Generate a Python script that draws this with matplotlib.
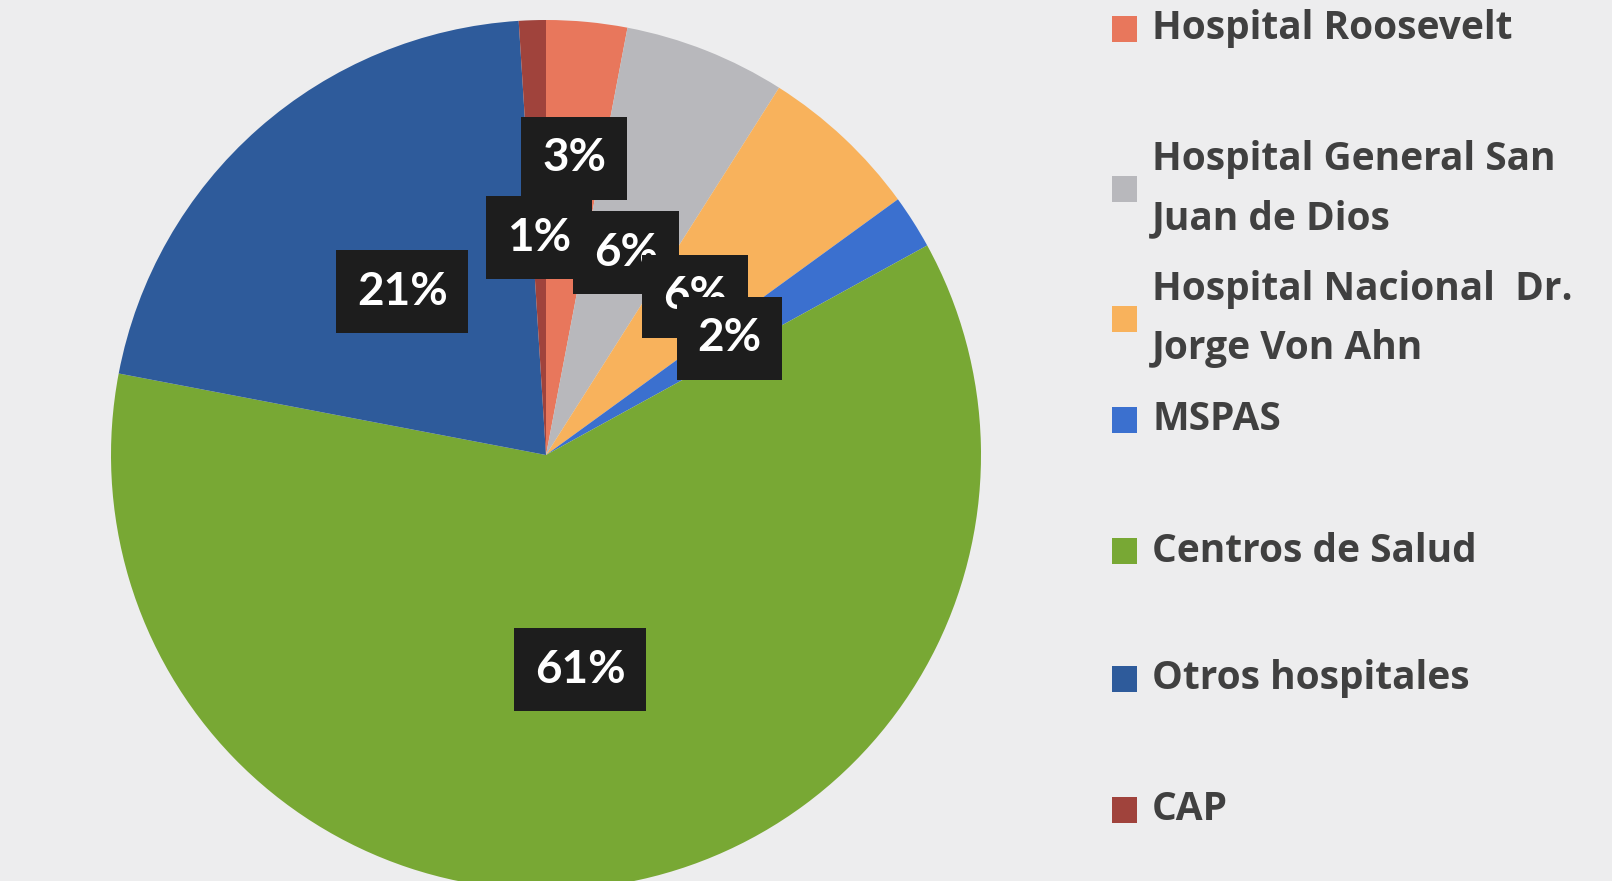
import matplotlib.pyplot as plt
from matplotlib.patches import Rectangle

categories = ["Hospital Roosevelt", "Hospital General San\nJuan de Dios",
              "Hospital Nacional  Dr.\nJorge Von Ahn", "MSPAS",
              "Centros de Salud", "Otros hospitales", "CAP"]
values = [3, 6, 6, 2, 61, 21, 1]
colors = ["#E8775C", "#B8B8BC", "#F8B25C", "#3B70CF", "#78A834", "#2E5B9B", "#A0433C"]

W, H = 1612, 881
fig = plt.figure(figsize=(W / 100, H / 100), dpi=100)
fig.patch.set_facecolor("#EDEDEE")
ax = fig.add_axes([0, 0, 1, 1])

wedges, texts, autotexts = ax.pie(
    values, colors=colors, startangle=90, counterclock=False,
    center=(546, H - 455), radius=435,
    autopct="%1.0f%%", pctdistance=0.5,
    wedgeprops=dict(linewidth=0),
    textprops=dict(color="white", fontsize=33, fontweight="bold", family="Lato"))

# first label was dragged outward in the original
cx, cy = 546, H - 455
x0, y0 = autotexts[0].get_position()
autotexts[0].set_position((cx + (x0 - cx) * 1.37, cy + (y0 - cy) * 1.37))

for t in autotexts:
    t.set_bbox(dict(boxstyle="square,pad=0.45", facecolor="#1D1D1D", edgecolor="none"))

ax.set_xlim(0, W)
ax.set_ylim(0, H)
ax.axis("off")

# legend, laid out as in the original
legend_y = [29, 189, 319, 420, 551, 679, 810]
for lab, col, ly in zip(categories, colors, legend_y):
    ax.add_patch(Rectangle((1112, H - ly - 13), 25, 26, facecolor=col, edgecolor="none"))
    ax.text(1152, H - ly, lab, fontsize=28, fontweight="bold", family="Open Sans",
            color="#404040", va="center", ha="left", linespacing=1.66)

plt.savefig("out.png", dpi=100, facecolor=fig.get_facecolor())
